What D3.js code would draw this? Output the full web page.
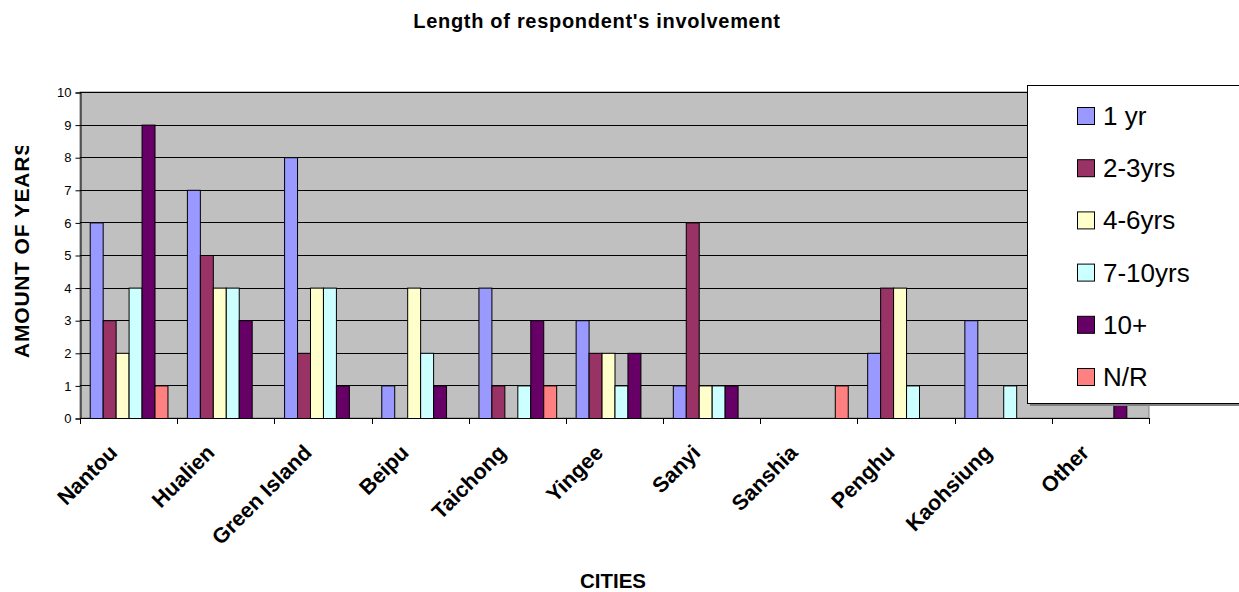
<!DOCTYPE html>
<html>
<head>
<meta charset="utf-8">
<script src="https://cdn.jsdelivr.net/npm/d3@7"></script>
<style>
  html, body { margin: 0; padding: 0; background: #fff; }
  svg { display: block; font-family: Arial, "Liberation Sans", sans-serif; }
</style>
</head>
<body>
<svg id="chart" width="1239" height="592"></svg>
<script>
// Cities surveyed
const cities = ["Nantou", "Hualien", "Green Island", "Beipu", "Taichong", "Yingee",
                "Sanyi", "Sanshia", "Penghu", "Kaohsiung", "Other"];

// Involvement groups
const groups = ["1 yr", "2-3yrs", "4-6yrs", "7-10yrs", "10+", "N/R"];
const groupColors = ["#9999FF", "#993366", "#FFFFCC", "#CCFFFF", "#660066", "#FF8080"];

// Respondent counts per city, one array per involvement group
const oneYr     = [6, 7, 8, 1, 4, 3, 1, 0, 2, 3, 0];
const twoThree  = [3, 5, 2, 0, 1, 2, 6, 0, 4, 0, 0];
const fourSix   = [2, 4, 4, 4, 0, 2, 1, 0, 4, 0, 0];
const sevenTen  = [4, 4, 4, 2, 1, 1, 1, 0, 1, 1, 0];
const tenPlus   = [9, 3, 1, 1, 3, 2, 1, 0, 0, 0, 2];
const noReply   = [1, 0, 0, 0, 1, 0, 0, 1, 0, 0, 0];
const seriesValues = [oneYr, twoThree, fourSix, sevenTen, tenPlus, noReply];

const yTicks = [0, 1, 2, 3, 4, 5, 6, 7, 8, 9, 10];

const svg = d3.select("#chart");
const plot = { left: 80, right: 1149, top: 92, bottom: 418 };

const x = d3.scaleBand().domain(cities).range([plot.left, plot.right]).padding(0);
const bw = x.bandwidth();
const xInner = d3.scaleBand().domain(groups).range([bw * 0.1, bw * 0.9]).padding(0);
const y = d3.scaleLinear().domain([0, 10]).range([plot.bottom, plot.top]);

// Plot area background
svg.append("rect")
  .attr("x", plot.left).attr("y", plot.top)
  .attr("width", plot.right - plot.left).attr("height", plot.bottom - plot.top)
  .attr("fill", "#C0C0C0").attr("stroke", "#808080").attr("stroke-width", 1);

// Horizontal gridlines
svg.append("g").selectAll("line")
  .data(yTicks.filter(d => d > 0))
  .join("line")
  .attr("x1", plot.left).attr("x2", plot.right)
  .attr("y1", d => Math.round(y(d)) + 0.5).attr("y2", d => Math.round(y(d)) + 0.5)
  .attr("stroke", "#000").attr("stroke-width", 1);

// Bars
const barData = [];
cities.forEach((c, i) => {
  groups.forEach((g, j) => {
    barData.push({ city: c, group: g, value: seriesValues[j][i], color: groupColors[j] });
  });
});
svg.append("g").selectAll("rect")
  .data(barData.filter(d => d.value > 0))
  .join("rect")
  .attr("x", d => x(d.city) + xInner(d.group) + 0.5)
  .attr("y", d => y(d.value) + 0.5)
  .attr("width", xInner.bandwidth())
  .attr("height", d => y(0) - y(d.value))
  .attr("fill", d => d.color)
  .attr("stroke", "#000").attr("stroke-width", 1);

// Y axis
const yAxis = d3.axisLeft(y).tickValues(yTicks).tickSize(5).tickPadding(4).tickFormat(d3.format("d"));
const gy = svg.append("g").attr("transform", `translate(${plot.left + 0.5},0.5)`).call(yAxis);
gy.select(".domain").attr("stroke", "#000");
gy.selectAll(".tick line").attr("stroke", "#000");
gy.selectAll(".tick text").attr("font-size", 13).attr("fill", "#000")
  .attr("font-family", "Arial, 'Liberation Sans', sans-serif");

// X axis line and tick marks at category boundaries
const boundaries = cities.map(c => x(c)).concat([plot.right]);
svg.append("line")
  .attr("x1", plot.left).attr("x2", plot.right)
  .attr("y1", plot.bottom + 0.5).attr("y2", plot.bottom + 0.5)
  .attr("stroke", "#000");
svg.append("g").selectAll("line")
  .data(boundaries)
  .join("line")
  .attr("x1", d => Math.round(d) + 0.5).attr("x2", d => Math.round(d) + 0.5)
  .attr("y1", plot.bottom).attr("y2", plot.bottom + 6)
  .attr("stroke", "#000");

// Rotated category labels
svg.append("g").selectAll("text")
  .data(cities)
  .join("text")
  .attr("transform", d => `translate(${x(d) + bw / 2 - 10},${plot.bottom + 36}) rotate(-45)`)
  .attr("text-anchor", "end")
  .attr("font-size", 21.5).attr("font-weight", "bold")
  .text(d => d);

// Chart title
svg.append("text")
  .attr("x", 597).attr("y", 28)
  .attr("text-anchor", "middle")
  .attr("font-size", 20).attr("font-weight", "bold")
  .attr("letter-spacing", 0.7)
  .text("Length of respondent's involvement");

// Axis titles
svg.append("text")
  .attr("x", 613).attr("y", 588)
  .attr("text-anchor", "middle")
  .attr("font-size", 20.5).attr("font-weight", "bold")
  .text("CITIES");

svg.append("clipPath").attr("id", "ytitle-clip")
  .append("rect").attr("x", 0).attr("y", 146).attr("width", 60).attr("height", 300);
svg.append("g").attr("clip-path", "url(#ytitle-clip)")
  .append("text")
  .attr("transform", "translate(29,358) rotate(-90)")
  .attr("text-anchor", "start")
  .attr("font-size", 21).attr("font-weight", "bold")
  .attr("letter-spacing", 0.8)
  .text("AMOUNT OF YEARS");

// Legend
const legend = svg.append("g");
legend.append("rect")
  .attr("x", 1030).attr("y", 88).attr("width", 240).attr("height", 318)
  .attr("fill", "#808080");
legend.append("rect")
  .attr("x", 1027.5).attr("y", 85.5).attr("width", 240).attr("height", 318)
  .attr("fill", "#fff").attr("stroke", "#000").attr("stroke-width", 1);
const item = legend.selectAll("g.item")
  .data(groups)
  .join("g").attr("class", "item")
  .attr("transform", (d, i) => `translate(1077,${116 + i * 52.2})`);
item.append("rect")
  .attr("x", 0.5).attr("y", -8.5).attr("width", 17).attr("height", 17)
  .attr("fill", (d, i) => groupColors[i]).attr("stroke", "#000");
item.append("text")
  .attr("x", 26).attr("y", 9)
  .attr("font-size", 26)
  .text(d => d);
</script>
</body>
</html>
